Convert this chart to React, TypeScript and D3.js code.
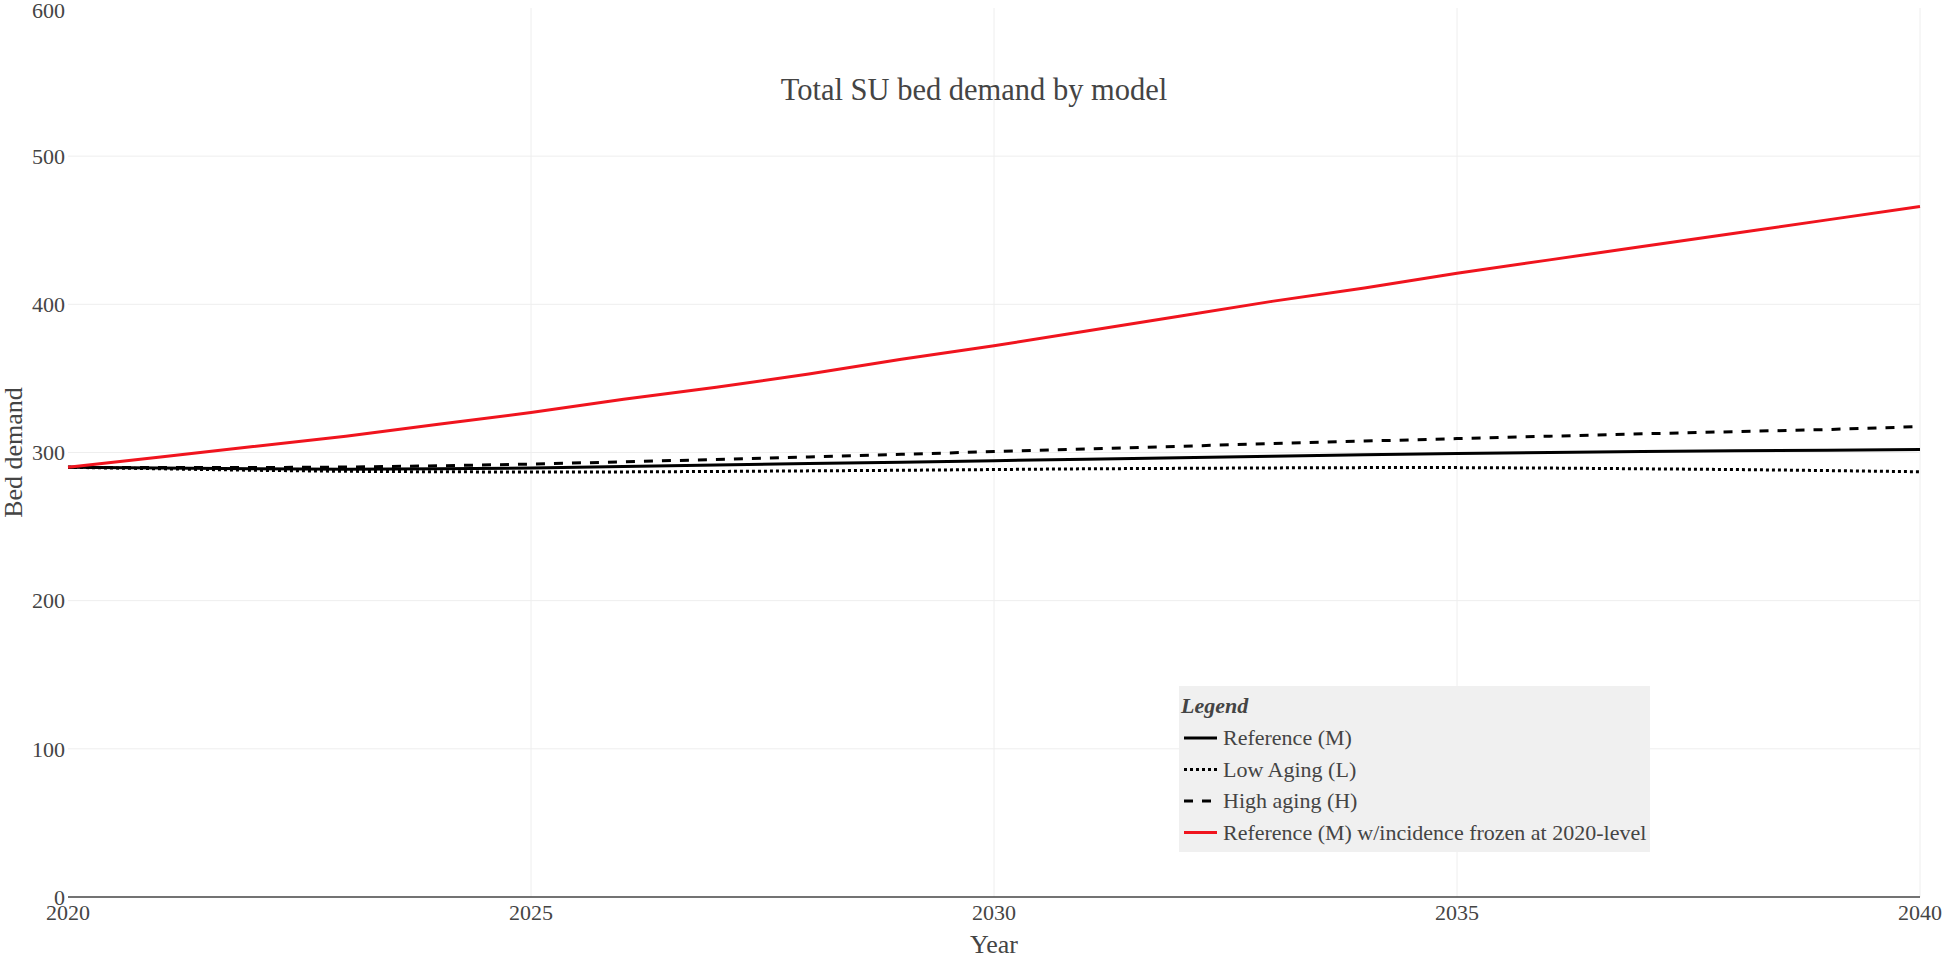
import React from 'react';
import { scaleLinear, line } from 'd3';

const years = [2020, 2021, 2022, 2023, 2024, 2025, 2026, 2027, 2028, 2029, 2030,
    2031, 2032, 2033, 2034, 2035, 2036, 2037, 2038, 2039, 2040];

const referenceM = [290, 289.5, 289, 288.7, 289, 289.5, 290.5, 291.5, 292.5, 293.5, 294.5,
    295.5, 296.5, 297.5, 298.5, 299.3, 300, 300.6, 301.1, 301.5, 302];
const lowAging = [290, 289, 288, 287.3, 287, 286.8, 286.9, 287.2, 287.6, 288, 288.5,
    289, 289.3, 289.6, 289.8, 289.8, 289.5, 289, 288.5, 287.8, 287];
const highAging = [290, 289.8, 289.8, 290.2, 291, 292.2, 293.7, 295.3, 297, 298.8, 300.6,
    302.4, 304.2, 306, 307.7, 309.4, 311, 312.6, 314.1, 315.5, 317.5];
const frozenIncidence = [290, 297, 304, 311, 319, 327, 336, 344, 353, 363, 372,
    382, 392, 402, 411, 421, 430, 439, 448, 457, 466];

const xTicks = [2020, 2025, 2030, 2035, 2040];
const yTicks = [0, 100, 200, 300, 400, 500, 600];

const series = [
    { name: 'Reference (M)', values: referenceM, color: '#000000', dash: null },
    { name: 'Low Aging (L)', values: lowAging, color: '#000000', dash: '3,3' },
    { name: 'High aging (H)', values: highAging, color: '#000000', dash: '9,9' },
    { name: 'Reference (M) w/incidence frozen at 2020-level', values: frozenIncidence, color: '#f0141e', dash: null }
];

const font = '"Liberation Serif", "Times New Roman", serif';

export default function App() {
    const width = 1943;
    const height = 958;
    const left = 68, right = 1920, top = 8, bottom = 897;

    const x = scaleLinear().domain([2020, 2040]).range([left, right]);
    const y = scaleLinear().domain([0, 600]).range([bottom, top]);

    const path = line<number>()
        .x((d, i) => x(years[i]))
        .y(d => y(d));

    const legX = 1179, legY = 686;

    return (
        <svg width={width} height={height}
            style={{ position: 'absolute', left: 0, top: 0, fontFamily: font }}>
            <rect x={0} y={0} width={width} height={height} fill="#fff" />
            {/* grid */}
            {yTicks.filter(t => t > 0 && t < 600).map(t => (
                <line key={'gy' + t} x1={left} x2={right} y1={y(t)} y2={y(t)} stroke="#eeeeee" strokeWidth={1} />
            ))}
            {xTicks.filter(t => t > 2020).map(t => (
                <line key={'gx' + t} x1={x(t)} x2={x(t)} y1={top} y2={bottom} stroke="#eeeeee" strokeWidth={1} />
            ))}
            {/* y tick labels */}
            {yTicks.map(t => (
                <text key={'ty' + t} x={left - 3} y={t === 600 ? y(t) + 2 : y(t)} dy="0.35em" textAnchor="end"
                    fontSize={22} fill="#444">{t}</text>
            ))}
            {/* x tick labels */}
            {xTicks.map(t => (
                <text key={'tx' + t} x={x(t)} y={920} textAnchor="middle" fontSize={22} fill="#444">{t}</text>
            ))}
            {/* lines */}
            {series.map(s => (
                <path key={s.name} d={path(s.values) || ''} fill="none" stroke={s.color}
                    strokeWidth={3} strokeDasharray={s.dash || undefined} />
            ))}
            {/* x axis */}
            <line x1={left} x2={right} y1={bottom} y2={bottom} stroke="#444" strokeWidth={1.5} />
            {/* titles */}
            <text x={974} y={100} textAnchor="middle" fontSize={30.5} fill="#444">Total SU bed demand by model</text>
            <text x={x(2030)} y={953} textAnchor="middle" fontSize={26} fill="#444">Year</text>
            <text transform={`translate(22,${(top + bottom) / 2}) rotate(-90)`} textAnchor="middle"
                fontSize={26} fill="#444">Bed demand</text>
            {/* legend */}
            <g transform={`translate(${legX},${legY})`}>
                <rect x={0} y={0} width={471} height={166} fill="#f0f0f0" />
                <text x={2} y={27} fontSize={22} fontWeight="bold" fontStyle="italic" fill="#444">Legend</text>
                {series.map((s, i) => (
                    <g key={s.name} transform={`translate(0,${59 + i * 31.5})`}>
                        <line x1={5} x2={38} y1={-7} y2={-7} stroke={s.color} strokeWidth={3}
                            strokeDasharray={s.dash || undefined} />
                        <text x={44} y={0} fontSize={22} fill="#444">{s.name}</text>
                    </g>
                ))}
            </g>
        </svg>
    );
}
